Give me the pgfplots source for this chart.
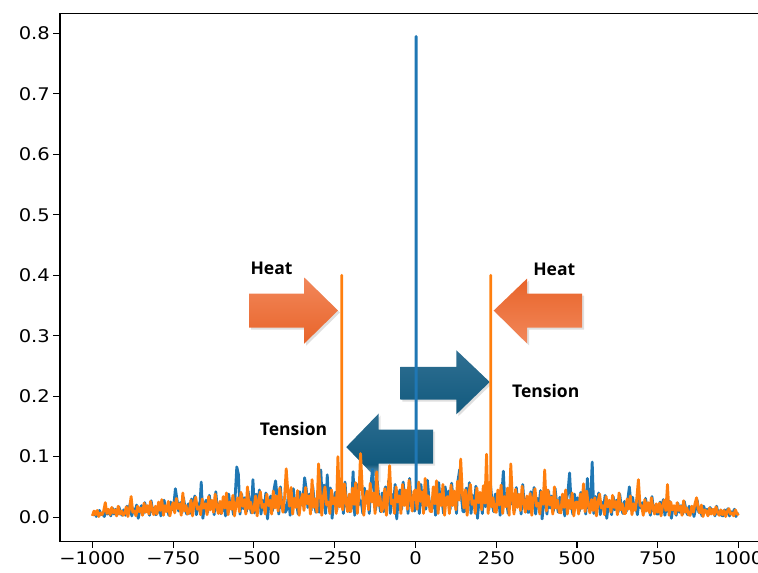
\documentclass[border=0pt]{standalone}
\usepackage{fontspec}
\setmainfont{DejaVu Sans}
\newfontfamily\annfont{Open Sans}
\usepackage{graphicx}
\usepackage{pgfplots}
\pgfplotsset{compat=1.18}
\usetikzlibrary{shadows}
\definecolor{mblue}{HTML}{1F77B4}
\definecolor{morange}{HTML}{FF7F0E}
\definecolor{arrOa}{HTML}{F2875A}
\definecolor{arrOb}{HTML}{E8642A}
\definecolor{arrBa}{HTML}{2F6F92}
\definecolor{arrBb}{HTML}{125A7E}
\pgfdeclareverticalshading{bluefade}{100bp}{color(0bp)=(arrBb!30!white); color(25bp)=(arrBb!30!white); color(37bp)=(arrBb); color(75bp)=(arrBa!85!arrBb); color(100bp)=(arrBa!85!arrBb)}
\newcommand{\tl}[1]{\scalebox{1.12}[1]{#1}}
\begin{document}
\begin{tikzpicture}[x=1pt,y=1pt]
\useasboundingbox (-60,-31.3) rectangle (697.4,540.7);
% annotation arrows (drawn first, data on top)
\path[drop shadow={opacity=0.25,shadow xshift=2pt,shadow yshift=-2pt}, top color=arrOa, bottom color=arrOb]
  (189,247.4) -- (244,247.4) -- (244,263.4) -- (277.7,230.4) -- (244,197.4) -- (244,213.4) -- (189,213.4) -- cycle;
\path[drop shadow={opacity=0.25,shadow xshift=2pt,shadow yshift=-2pt}, top color=arrOb, bottom color=arrOa]
  (521.7,247.4) -- (466.7,247.4) -- (466.7,262.4) -- (433.3,230.4) -- (466.7,197.4) -- (466.7,213.4) -- (521.7,213.4) -- cycle;
\path[drop shadow={opacity=0.25,shadow xshift=2pt,shadow yshift=-2pt}, top color=arrBa, bottom color=arrBb]
  (340,174) -- (396,174) -- (396,190.7) -- (429.3,159) -- (396,126.7) -- (396,141.4) -- (340,141.4) -- cycle;
\path[drop shadow={opacity=0.2,shadow xshift=2pt,shadow yshift=-2pt}, shading=bluefade]
  (372.7,111.4) -- (318.3,111.4) -- (318.3,127.4) -- (286,94) -- (318.3,60.6) -- (318.3,77.4) -- (372.7,77.4) -- cycle;
\begin{axis}[
  at={(0,0)}, anchor=south west,
  scale only axis, width=698pt, height=527.4pt,
  xmin=-1100, xmax=1062, ymin=-0.0397, ymax=0.8331,
  axis line style={draw=none},
  tick pos=left, tick align=outside,
  major tick length=6.7pt,
  every tick/.style={black, line width=1.1pt},
  xtick={-1000,-750,-500,-250,0,250,500,750,1000},
  xticklabels={\tl{−1000},\tl{−750},\tl{−500},\tl{−250},\tl{0},\tl{250},\tl{500},\tl{750},\tl{1000}},
  ytick={0,0.1,0.2,0.3,0.4,0.5,0.6,0.7,0.8},
  yticklabels={\tl{0.0},\tl{0.1},\tl{0.2},\tl{0.3},\tl{0.4},\tl{0.5},\tl{0.6},\tl{0.7},\tl{0.8}},
  ticklabel style={font=\fontsize{17.4}{20}\selectfont},
]
\addplot[mblue, line width=2.8pt, line join=round] coordinates {
(-998,0.003)(-993,0.009)(-988,0.001)(-983,0.007)(-978,0.011)(-973,0.004)(-968,0.005)(-963,0.001)(-958,0.010)(-953,0.005)
(-948,0.010)(-943,0.002)(-938,0.015)(-933,0.005)(-928,0.013)(-923,0.004)(-918,0.017)(-913,0.008)(-908,0.003)(-903,0.012)
(-898,0.003)(-893,0.018)(-888,0.008)(-883,0.022)(-878,0.002)(-873,0.014)(-868,0.007)(-863,0.020)(-858,-0.002)(-853,0.012)
(-848,0.019)(-843,0.005)(-838,0.024)(-833,0.011)(-828,0.018)(-823,0.003)(-818,0.027)(-813,0.008)(-808,0.015)(-803,0.004)
(-798,0.008)(-793,0.023)(-788,0.002)(-783,0.019)(-778,0.028)(-773,0.011)(-768,0.014)(-763,0.003)(-758,0.025)(-753,0.012)
(-748,0.019)(-743,0.047)(-738,0.029)(-733,0.010)(-728,0.024)(-723,0.007)(-718,0.032)(-713,0.015)(-708,0.005)(-703,0.022)
(-698,0.006)(-693,0.030)(-688,0.013)(-683,0.035)(-678,0.004)(-673,0.022)(-668,0.011)(-663,0.058)(-658,-0.002)(-653,0.019)
(-648,0.028)(-643,0.008)(-638,0.036)(-633,0.016)(-628,0.026)(-623,0.004)(-618,0.042)(-613,0.012)(-608,0.022)(-603,0.006)
(-598,0.011)(-593,0.032)(-588,0.002)(-583,0.025)(-578,0.038)(-573,0.015)(-568,0.019)(-563,0.004)(-558,0.034)(-553,0.083)
(-548,0.071)(-543,0.005)(-538,0.038)(-533,0.014)(-528,0.032)(-523,0.009)(-518,0.043)(-513,0.020)(-508,0.007)(-503,0.062)
(-498,0.007)(-493,0.038)(-488,0.016)(-483,0.045)(-478,0.005)(-473,0.028)(-468,0.014)(-463,0.040)(-458,-0.003)(-453,0.024)
(-448,0.035)(-443,0.010)(-438,0.045)(-433,0.060)(-428,0.033)(-423,0.005)(-418,0.050)(-413,0.015)(-408,0.028)(-403,0.008)
(-398,0.013)(-393,0.039)(-388,0.003)(-383,0.031)(-378,0.047)(-373,0.018)(-368,0.023)(-363,0.005)(-358,0.042)(-353,0.021)
(-348,0.030)(-343,0.065)(-338,0.046)(-333,0.016)(-328,0.038)(-323,0.011)(-318,0.051)(-313,0.024)(-308,0.008)(-303,0.035)
(-298,0.008)(-293,0.078)(-288,0.020)(-283,0.053)(-278,0.006)(-273,0.070)(-268,0.017)(-263,0.048)(-258,-0.002)(-253,0.028)
(-248,0.041)(-243,0.012)(-238,0.052)(-233,0.023)(-228,0.038)(-223,0.006)(-218,0.058)(-213,0.017)(-208,0.032)(-203,0.009)
(-198,0.015)(-193,0.075)(-188,0.003)(-183,0.036)(-178,0.054)(-173,0.021)(-168,0.027)(-163,0.006)(-158,0.048)(-153,0.024)
(-148,0.034)(-143,0.006)(-138,0.053)(-133,0.079)(-128,0.043)(-123,0.012)(-118,0.059)(-113,0.028)(-108,0.009)(-103,0.040)
(-98,0.009)(-93,0.050)(-88,0.022)(-83,0.060)(-78,0.006)(-73,0.038)(-68,0.019)(-63,0.054)(-58,-0.003)(-53,0.032)
(-48,0.045)(-43,0.013)(-38,0.058)(-33,0.026)(-28,0.042)(-23,0.006)(-18,0.064)(-13,0.019)(-8,0.035)(-3,0.010)
(2,0.020)(2,0.795)(2,0.020)
(7,0.035)(12,0.006)(17,0.054)(22,0.019)(27,0.045)(32,0.013)(37,0.061)(42,0.029)(47,0.010)
(52,0.016)(57,0.047)(62,0.003)(67,0.038)(72,0.057)(77,0.022)(82,0.028)(87,0.006)(92,0.050)(97,0.025)
(102,0.043)(107,0.012)(112,0.056)(117,0.025)(122,0.040)(127,0.006)(132,0.062)(137,0.079)(142,0.034)(147,0.009)
(152,0.009)(157,0.048)(162,0.021)(167,0.057)(172,0.006)(177,0.036)(182,0.018)(187,0.051)(192,-0.002)(197,0.030)
(202,0.032)(207,0.006)(212,0.049)(217,0.017)(222,0.041)(227,0.012)(232,0.055)(237,0.026)(242,0.009)(247,0.038)
(252,0.014)(257,0.042)(262,0.003)(267,0.034)(272,0.076)(277,0.020)(282,0.025)(287,0.006)(292,0.045)(297,0.022)
(302,0.038)(307,0.011)(312,0.049)(317,0.022)(322,0.035)(327,0.005)(332,0.054)(337,0.016)(342,0.030)(347,0.008)
(352,0.008)(357,0.042)(362,0.018)(367,0.049)(372,0.005)(377,0.031)(382,0.016)(387,0.044)(392,-0.003)(397,0.026)
(402,0.028)(407,0.005)(412,0.043)(417,0.015)(422,0.035)(427,0.010)(432,0.048)(437,0.023)(442,0.008)(447,0.033)
(452,0.012)(457,0.035)(462,0.002)(467,0.028)(472,0.042)(477,0.073)(482,0.021)(487,0.005)(492,0.038)(497,0.019)
(502,0.032)(507,0.009)(512,0.041)(517,0.018)(522,0.029)(527,0.005)(532,0.064)(537,0.014)(542,0.025)(547,0.091)
(552,0.006)(557,0.034)(562,0.015)(567,0.040)(572,0.004)(577,0.025)(582,0.013)(587,0.036)(592,-0.002)(597,0.021)
(602,0.022)(607,0.004)(612,0.034)(617,0.012)(622,0.028)(627,0.008)(632,0.038)(637,0.018)(642,0.006)(647,0.026)
(652,0.009)(657,0.028)(662,0.050)(667,0.022)(672,0.033)(677,0.013)(682,0.017)(687,0.004)(692,0.030)(697,0.015)
(702,0.024)(707,0.007)(712,0.031)(717,0.014)(722,0.022)(727,0.003)(732,0.034)(737,0.010)(742,0.019)(747,0.005)
(752,0.005)(757,0.025)(762,0.011)(767,0.029)(772,0.003)(777,0.019)(782,0.009)(787,0.026)(792,-0.002)(797,0.016)
(802,0.015)(807,0.003)(812,0.023)(817,0.008)(822,0.019)(827,0.005)(832,0.026)(837,0.012)(842,0.004)(847,0.018)
(852,0.006)(857,0.017)(862,0.001)(867,0.014)(872,0.028)(877,0.008)(882,0.010)(887,0.002)(892,0.018)(897,0.009)
(902,0.013)(907,0.004)(912,0.016)(917,0.007)(922,0.012)(927,0.002)(932,0.018)(937,0.005)(942,0.010)(947,0.003)
(952,0.002)(957,0.012)(962,0.005)(967,0.014)(972,0.002)(977,0.009)(982,0.005)(987,0.013)(992,0.001)(997,0.008)
};
\addplot[morange, line width=2.8pt, line join=round] coordinates {
(-1000,0.002)(-995,0.010)(-990,0.004)(-985,0.011)(-980,0.001)(-975,0.007)(-970,0.004)(-965,0.010)(-960,0.024)(-955,0.006)
(-950,0.013)(-945,0.004)(-940,0.016)(-935,0.007)(-930,0.012)(-925,0.002)(-920,0.018)(-915,0.005)(-910,0.010)(-905,0.003)
(-900,0.006)(-895,0.017)(-890,0.001)(-885,0.014)(-880,0.034)(-875,0.008)(-870,0.010)(-865,0.002)(-860,0.018)(-855,0.009)
(-850,0.015)(-845,0.003)(-840,0.023)(-835,0.008)(-830,0.019)(-825,0.005)(-820,0.026)(-815,0.012)(-810,0.004)(-805,0.018)
(-800,0.005)(-795,0.025)(-790,0.011)(-785,0.029)(-780,0.003)(-775,0.019)(-770,0.009)(-765,0.026)(-760,0.002)(-755,0.016)
(-750,0.024)(-745,0.007)(-740,0.031)(-735,0.014)(-730,0.022)(-725,0.003)(-720,0.040)(-715,0.010)(-710,0.019)(-705,0.005)
(-700,0.009)(-695,0.028)(-690,0.002)(-685,0.022)(-680,0.033)(-675,0.013)(-670,0.017)(-665,0.004)(-660,0.030)(-655,0.015)
(-650,0.022)(-645,0.004)(-640,0.034)(-635,0.012)(-630,0.028)(-625,0.008)(-620,0.038)(-615,0.018)(-610,0.006)(-605,0.026)
(-600,0.006)(-595,0.034)(-590,0.015)(-585,0.040)(-580,0.004)(-575,0.025)(-570,0.013)(-565,0.036)(-560,0.002)(-555,0.021)
(-550,0.032)(-545,0.009)(-540,0.041)(-535,0.018)(-530,0.029)(-525,0.005)(-520,0.050)(-515,0.014)(-510,0.025)(-505,0.007)
(-500,0.012)(-495,0.035)(-490,0.002)(-485,0.028)(-480,0.042)(-475,0.016)(-470,0.021)(-465,0.005)(-460,0.038)(-455,0.019)
(-450,0.028)(-445,0.005)(-440,0.043)(-435,0.015)(-430,0.035)(-425,0.010)(-420,0.048)(-415,0.023)(-410,0.008)(-405,0.033)
(-400,0.080)(-395,0.042)(-390,0.018)(-385,0.049)(-380,0.005)(-375,0.031)(-370,0.016)(-365,0.044)(-360,0.003)(-355,0.026)
(-350,0.038)(-345,0.011)(-340,0.049)(-335,0.022)(-330,0.035)(-325,0.005)(-320,0.062)(-315,0.016)(-310,0.030)(-305,0.008)
(-300,0.088)(-295,0.042)(-290,0.003)(-285,0.034)(-280,0.050)(-275,0.020)(-270,0.025)(-265,0.006)(-260,0.045)(-255,0.022)
(-250,0.032)(-245,0.006)(-240,0.100)(-235,0.017)(-230,0.041)(-228,0.020)(-228,0.400)(-228,0.020)(-225,0.012)(-220,0.055)(-215,0.026)(-210,0.009)(-205,0.038)
(-200,0.009)(-195,0.048)(-190,0.021)(-185,0.057)(-180,0.006)(-175,0.036)(-170,0.105)(-165,0.051)(-160,0.003)(-155,0.030)
(-150,0.043)(-145,0.012)(-140,0.056)(-135,0.025)(-130,0.040)(-125,0.006)(-120,0.075)(-115,0.019)(-110,0.034)(-105,0.009)
(-100,0.016)(-95,0.047)(-90,0.003)(-85,0.038)(-80,0.085)(-75,0.022)(-70,0.028)(-65,0.006)(-60,0.050)(-55,0.025)
(-50,0.035)(-45,0.006)(-40,0.054)(-35,0.019)(-30,0.045)(-25,0.013)(-20,0.061)(-15,0.029)(-10,0.010)(-5,0.042)
(0,0.045)(5,0.013)(10,0.058)(15,0.026)(20,0.042)(25,0.006)(30,0.064)(35,0.019)(40,0.035)(45,0.010)
(50,0.009)(55,0.050)(60,0.022)(65,0.060)(70,0.006)(75,0.038)(80,0.019)(85,0.054)(90,0.003)(95,0.032)
(100,0.034)(105,0.006)(110,0.053)(115,0.019)(120,0.043)(125,0.012)(130,0.059)(135,0.028)(140,0.096)(145,0.040)
(150,0.015)(155,0.045)(160,0.003)(165,0.036)(170,0.054)(175,0.021)(180,0.027)(185,0.006)(190,0.048)(195,0.024)
(200,0.041)(205,0.012)(210,0.052)(215,0.023)(220,0.104)(225,0.006)(230,0.058)(233,0.020)(233,0.400)(233,0.020)(235,0.017)(240,0.032)(245,0.009)
(250,0.008)(255,0.045)(260,0.020)(265,0.053)(270,0.006)(275,0.034)(280,0.017)(285,0.048)(290,0.003)(295,0.088)
(300,0.030)(305,0.005)(310,0.046)(315,0.016)(320,0.038)(325,0.011)(330,0.051)(335,0.024)(340,0.008)(345,0.035)
(350,0.013)(355,0.039)(360,0.003)(365,0.031)(370,0.047)(375,0.018)(380,0.023)(385,0.005)(390,0.042)(395,0.021)
(400,0.078)(405,0.010)(410,0.045)(415,0.020)(420,0.033)(425,0.005)(430,0.050)(435,0.015)(440,0.028)(445,0.008)
(450,0.007)(455,0.038)(460,0.016)(465,0.045)(470,0.005)(475,0.028)(480,0.014)(485,0.040)(490,0.002)(495,0.024)
(500,0.025)(505,0.005)(510,0.038)(515,0.014)(520,0.055)(525,0.009)(530,0.043)(535,0.020)(540,0.007)(545,0.029)
(550,0.011)(555,0.032)(560,0.002)(565,0.025)(570,0.038)(575,0.015)(580,0.019)(585,0.004)(590,0.034)(595,0.017)
(600,0.028)(605,0.008)(610,0.036)(615,0.016)(620,0.026)(625,0.004)(630,0.040)(635,0.012)(640,0.022)(645,0.006)
(650,0.006)(655,0.030)(660,0.013)(665,0.035)(670,0.004)(675,0.022)(680,0.011)(685,0.031)(690,0.062)(695,0.019)
(700,0.019)(705,0.003)(710,0.029)(715,0.010)(720,0.024)(725,0.007)(730,0.032)(735,0.015)(740,0.005)(745,0.022)
(750,0.008)(755,0.023)(760,0.002)(765,0.019)(770,0.028)(775,0.011)(780,0.054)(785,0.003)(790,0.025)(795,0.012)
(800,0.019)(805,0.005)(810,0.024)(815,0.011)(820,0.018)(825,0.003)(830,0.027)(835,0.008)(840,0.015)(845,0.004)
(850,0.003)(855,0.018)(860,0.008)(865,0.022)(870,0.032)(875,0.014)(880,0.007)(885,0.020)(890,0.001)(895,0.012)
(900,0.010)(905,0.002)(910,0.015)(915,0.005)(920,0.013)(925,0.004)(930,0.017)(935,0.008)(940,0.003)(945,0.012)
(950,0.004)(955,0.011)(960,0.001)(965,0.009)(970,0.014)(975,0.005)(980,0.007)(985,0.002)(990,0.012)(995,0.006)(1000,0.003)
};
\end{axis}
\draw[black, line width=1.1pt] (0,527.4) -- (0,0) -- (697.4,0);
\draw[black, line width=1.1pt] (0,527.4) -- (697.4,527.4);
\node[anchor=base, inner sep=0pt, font=\annfont\bfseries\fontsize{17.5}{20}\selectfont] at (211.3,266.4) {Heat};
\node[anchor=base, inner sep=0pt, font=\annfont\bfseries\fontsize{17.5}{20}\selectfont] at (493.8,265.7) {Heat};
\node[anchor=base, inner sep=0pt, font=\annfont\bfseries\fontsize{17.5}{20}\selectfont] at (485.3,144) {Tension};
\node[anchor=base, inner sep=0pt, font=\annfont\bfseries\fontsize{17.5}{20}\selectfont] at (233.3,105.7) {Tension};
\end{tikzpicture}
\end{document}
